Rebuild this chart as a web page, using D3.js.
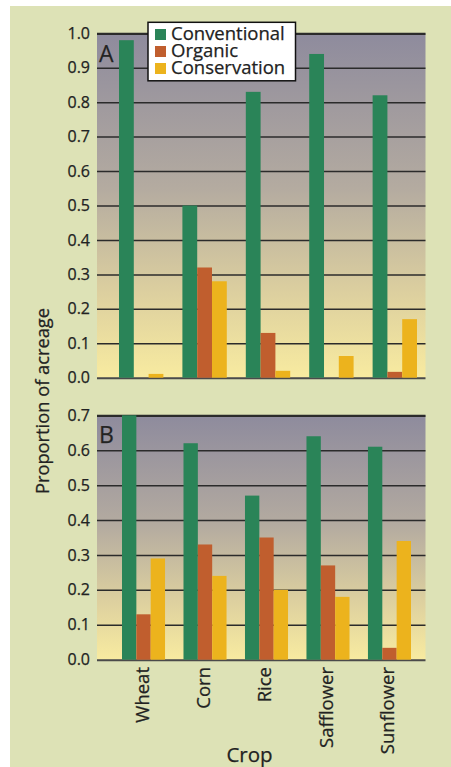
<!DOCTYPE html>
<html>
<head>
<meta charset="utf-8">
<script src="https://cdn.jsdelivr.net/npm/d3@7"></script>
<style>
  html, body { margin: 0; padding: 0; background: #ffffff; }
  svg { display: block; }
  text { font-family: "Open Sans", "Noto Sans", sans-serif; fill: #222; stroke: #222; stroke-width: 0.25px; }
</style>
</head>
<body>
<svg id="chart" width="451" height="767"></svg>
<script>
const crops = ["Wheat", "Corn", "Rice", "Safflower", "Sunflower"];
const seriesNames = ["Conventional", "Organic", "Conservation"];
const seriesColors = ["#2a8458", "#c05e2e", "#ecb31d"];

const conventionalA = [0.98, 0.50, 0.83, 0.94, 0.82];
const organicA      = [0.00, 0.32, 0.13, 0.00, 0.017];
const conservationA = [0.011, 0.28, 0.02, 0.063, 0.17];

const conventionalB = [0.70, 0.62, 0.47, 0.64, 0.61];
const organicB      = [0.13, 0.33, 0.35, 0.27, 0.034];
const conservationB = [0.29, 0.24, 0.20, 0.18, 0.34];

const ticksA = [0.0, 0.1, 0.2, 0.3, 0.4, 0.5, 0.6, 0.7, 0.8, 0.9, 1.0];
const ticksB = [0.0, 0.1, 0.2, 0.3, 0.4, 0.5, 0.6, 0.7];

const svg = d3.select("#chart");

// outer background
svg.append("rect").attr("x", 10).attr("y", 6).attr("width", 441).attr("height", 761).attr("fill", "#dde2b6");

const defs = svg.append("defs");
const grad = defs.append("linearGradient").attr("id", "plotGrad")
  .attr("x1", 0).attr("y1", 0).attr("x2", 0).attr("y2", 1);
[[0, "#8e8b9d"], [0.45, "#b4aba0"], [0.75, "#dccf9f"], [1, "#f8eba0"]].forEach(([o, c]) =>
  grad.append("stop").attr("offset", o).attr("stop-color", c));

const plotLeft = 97, plotRight = 425.5;

function drawPanel(cfg) {
  const y = d3.scaleLinear().domain([0, cfg.max]).range([cfg.bottom, cfg.top]);
  const x = d3.scaleBand().domain(crops).range(cfg.xRange).paddingInner(0.3).paddingOuter(0);
  const xs = d3.scaleBand().domain(seriesNames).range([0, x.bandwidth()]);

  const g = svg.append("g");
  g.append("rect").attr("x", plotLeft).attr("y", cfg.top)
    .attr("width", plotRight - plotLeft).attr("height", cfg.bottom - cfg.top)
    .attr("fill", "url(#plotGrad)");

  const axis = d3.axisLeft(y).tickValues(cfg.ticks).tickFormat(d3.format(".1f"))
    .tickSize(-(plotRight - plotLeft)).tickPadding(7);
  const ax = g.append("g").attr("transform", `translate(${plotLeft},0)`).call(axis);
  ax.select(".domain").remove();
  ax.selectAll(".tick line").attr("stroke", "#2b2b2b").attr("stroke-width", d => d === cfg.max ? 2.2 : 1.5);
  ax.selectAll(".tick line").filter(d => d === 0).attr("stroke", "#4a4a4a").attr("stroke-width", 2);
  ax.selectAll(".tick text").style("font-size", "16px").attr("fill", "#222")
    .style("font-family", "'Open Sans', sans-serif");

  const rows = crops.map((c, i) => ({ crop: c, vals: cfg.series.map(s => s[i]) }));
  const grp = g.selectAll(".grp").data(rows).join("g")
    .attr("transform", d => `translate(${x(d.crop)},0)`);
  grp.selectAll("rect").data(d => d.vals.map((v, j) => ({ v, name: seriesNames[j], color: seriesColors[j] })))
    .join("rect")
    .attr("x", d => xs(d.name))
    .attr("width", xs.bandwidth())
    .attr("y", d => y(d.v))
    .attr("height", d => y(0) - y(d.v))
    .attr("fill", d => d.color);

  g.append("text").attr("x", 99).attr("y", cfg.top + cfg.labelDy)
    .style("font-size", "23px").attr("fill", "#333").style("stroke", "#333").text(cfg.label);
  return { x, y };
}

drawPanel({ top: 33.3, bottom: 377.7, max: 1.0, ticks: ticksA, xRange: [119, 417],
  series: [conventionalA, organicA, conservationA], label: "A", labelDy: 29 });
const pB = drawPanel({ top: 415.3, bottom: 659.7, max: 0.7, ticks: ticksB, xRange: [122, 411],
  series: [conventionalB, organicB, conservationB], label: "B", labelDy: 28 });

// x category labels (rotated)
svg.append("g").selectAll("text").data(crops).join("text")
  .attr("transform", d => `translate(${pB.x(d) + pB.x.bandwidth() / 2 - 1.5},667) rotate(-90)`)
  .attr("text-anchor", "end").attr("dy", "0.35em")
  .style("font-size", "18.5px").text(d => d);

// axis titles
svg.append("text").attr("transform", "translate(49,401) rotate(-90)")
  .attr("text-anchor", "middle").style("font-size", "18.3px").text("Proportion of acreage");
svg.append("text").attr("x", 249.5).attr("y", 762).attr("text-anchor", "middle")
  .style("font-size", "20.5px").text("Crop");

// legend
const lg = svg.append("g");
lg.append("rect").attr("x", 148).attr("y", 22.3).attr("width", 147.5).attr("height", 58.5)
  .attr("fill", "#fff").attr("stroke", "#111").attr("stroke-width", 1.5);
seriesNames.forEach((n, i) => {
  lg.append("rect").attr("x", 155).attr("y", 29 + i * 17).attr("width", 11).attr("height", 11).attr("fill", seriesColors[i]);
});
const lgText = lg.append("text").style("font-size", "18.5px");
seriesNames.forEach((n, i) => {
  lgText.append("tspan").attr("x", 171).attr("y", 40 + i * 17).text(n);
});
</script>
</body>
</html>
